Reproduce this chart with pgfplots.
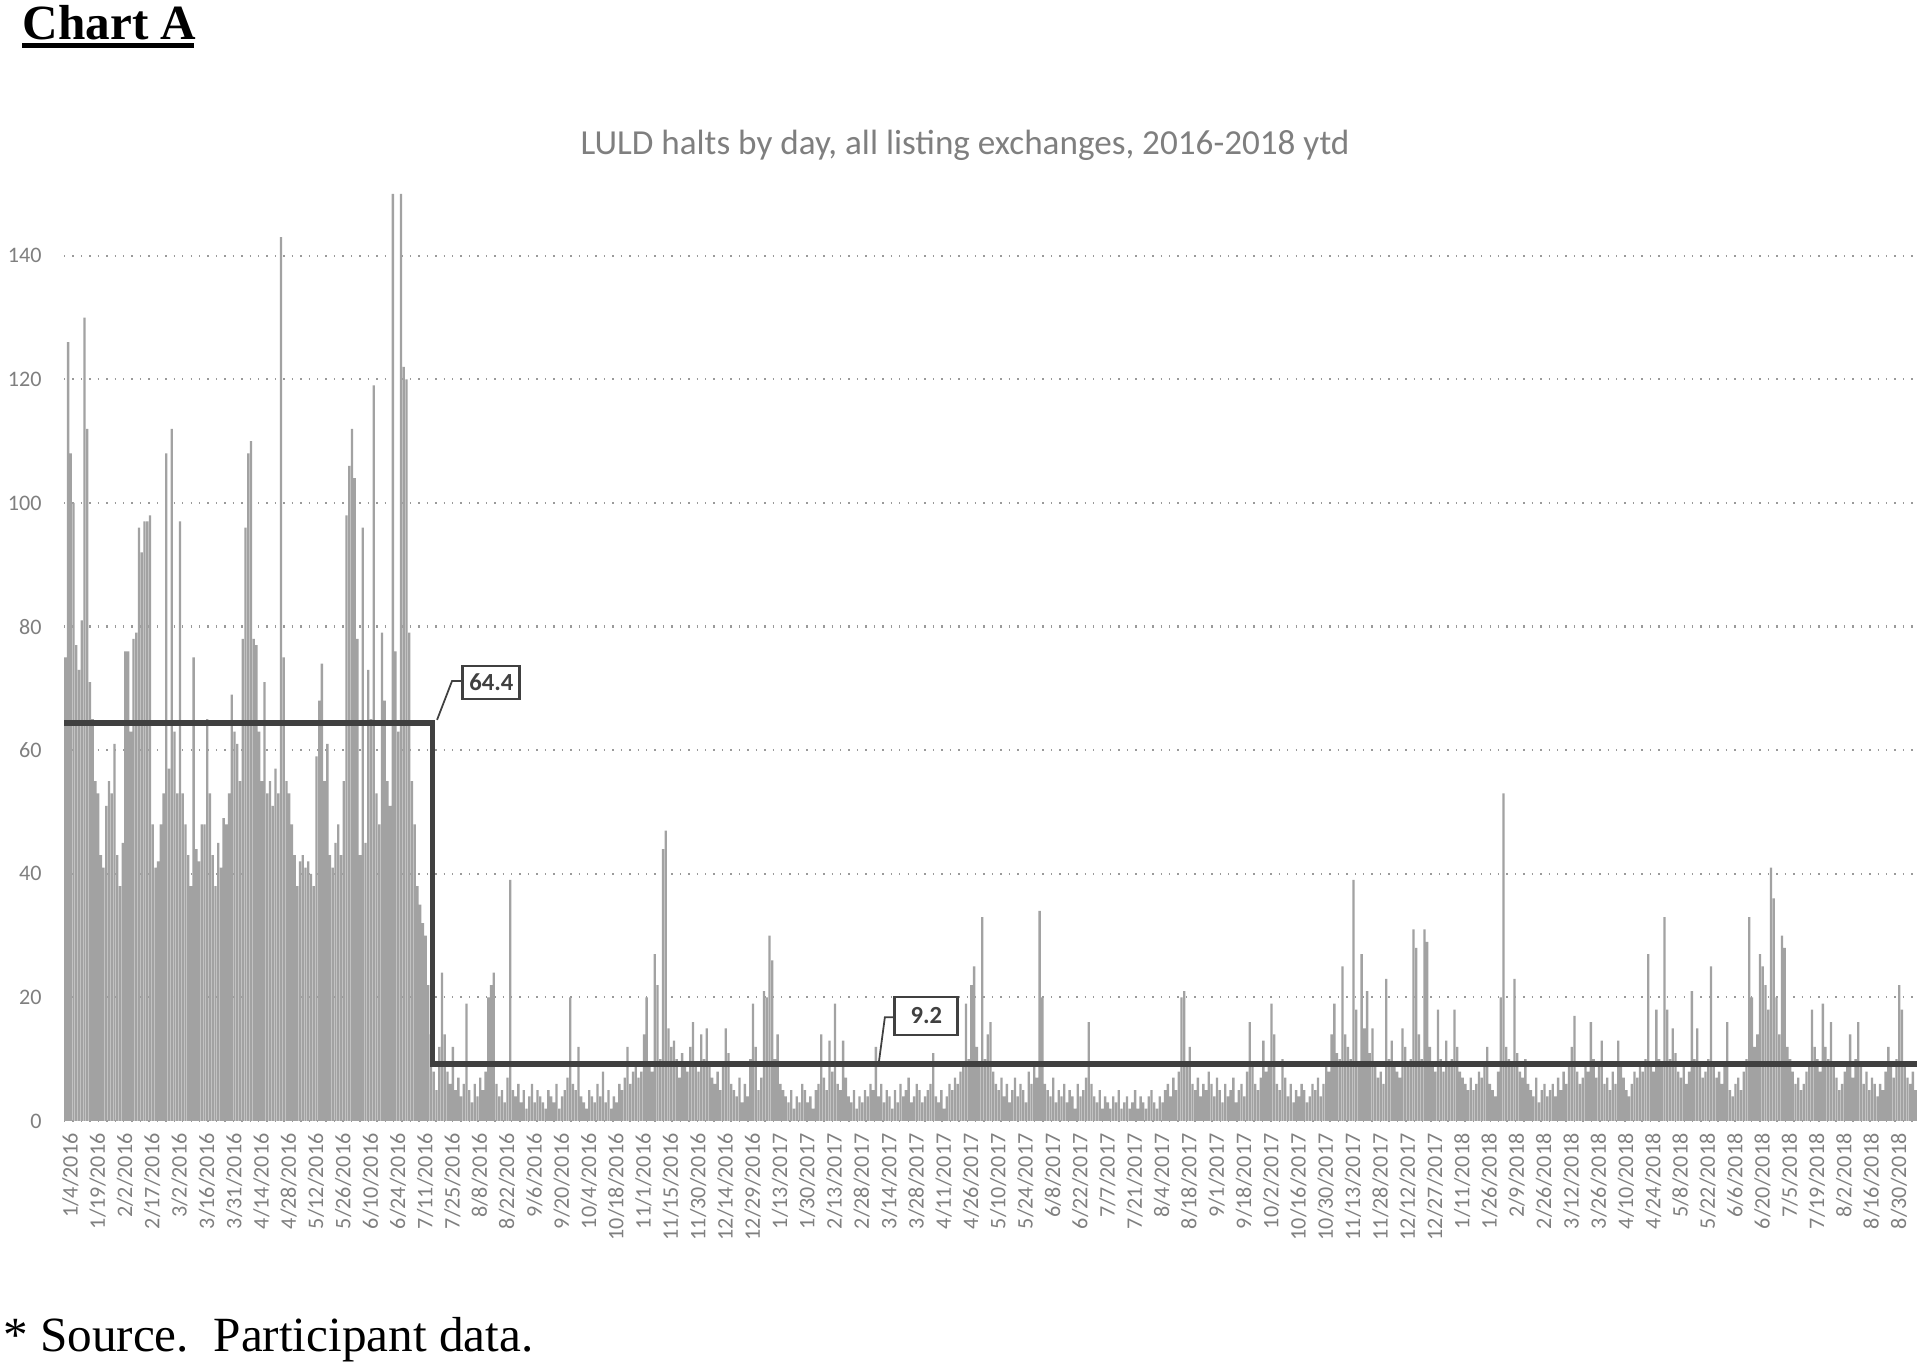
\documentclass[border=0pt]{standalone}
\usepackage{fontspec}
\setmainfont{Carlito}
\newfontfamily\timesfont{Liberation Serif}
\usepackage{pgfplots}
\usepackage{pgfplotstable}
\pgfplotsset{compat=1.18}
\definecolor{barfill}{HTML}{A2A2A2}
\definecolor{stepline}{HTML}{404040}
\definecolor{gridgray}{HTML}{9A9A9A}
\definecolor{txtgray}{HTML}{7F7F7F}

% daily LULD halts, 1/4/2016 onwards (one value per trading day)
\pgfplotstableread[row sep=\\]{
v\\
75\\126\\108\\100\\77\\73\\81\\130\\112\\71\\
65\\55\\53\\43\\41\\51\\55\\53\\61\\43\\
38\\45\\76\\76\\63\\78\\79\\96\\92\\97\\
97\\98\\48\\41\\42\\48\\53\\108\\57\\112\\
63\\53\\97\\53\\48\\43\\38\\75\\44\\42\\
48\\48\\65\\53\\43\\38\\45\\41\\49\\48\\
53\\69\\63\\61\\55\\78\\96\\108\\110\\78\\
77\\63\\55\\71\\53\\55\\51\\57\\53\\143\\
75\\55\\53\\48\\43\\38\\42\\43\\41\\42\\
40\\38\\59\\68\\74\\55\\61\\43\\41\\45\\
48\\43\\55\\98\\106\\112\\104\\78\\43\\96\\
45\\73\\65\\119\\53\\48\\79\\68\\55\\51\\
150\\76\\63\\150\\122\\120\\79\\55\\48\\38\\
35\\32\\30\\22\\14\\
8\\5\\12\\24\\14\\8\\6\\12\\5\\7\\
4\\6\\19\\5\\3\\6\\4\\7\\5\\8\\
20\\22\\24\\6\\4\\5\\3\\7\\39\\5\\
4\\6\\3\\5\\2\\4\\6\\3\\5\\4\\
3\\2\\5\\4\\3\\6\\2\\4\\5\\7\\
20\\6\\5\\12\\4\\3\\2\\5\\4\\3\\
6\\4\\8\\3\\5\\2\\4\\3\\6\\5\\
7\\12\\6\\8\\9\\7\\8\\14\\20\\9\\
8\\27\\22\\10\\44\\47\\15\\12\\13\\10\\
7\\11\\9\\8\\12\\16\\9\\8\\14\\10\\
15\\9\\7\\6\\8\\5\\9\\15\\11\\6\\
5\\4\\7\\3\\6\\4\\10\\19\\12\\5\\
7\\21\\20\\30\\26\\10\\14\\6\\5\\4\\
3\\5\\2\\4\\3\\6\\5\\3\\4\\2\\
5\\6\\14\\7\\5\\13\\8\\19\\6\\5\\
13\\7\\4\\3\\5\\2\\4\\3\\5\\4\\
6\\5\\12\\4\\6\\3\\5\\4\\2\\5\\
3\\6\\4\\5\\7\\3\\4\\6\\5\\3\\
4\\5\\6\\11\\4\\3\\5\\2\\4\\6\\
5\\7\\6\\8\\9\\19\\10\\22\\25\\12\\
9\\33\\10\\14\\16\\8\\6\\5\\7\\4\\
6\\3\\5\\7\\4\\6\\5\\3\\8\\6\\
9\\7\\34\\20\\6\\5\\4\\7\\3\\5\\
4\\6\\3\\5\\4\\2\\6\\4\\5\\7\\
16\\6\\4\\3\\5\\2\\4\\3\\2\\4\\
3\\5\\2\\3\\4\\2\\3\\5\\2\\4\\
3\\2\\4\\5\\3\\2\\4\\3\\5\\6\\
4\\7\\5\\8\\20\\21\\9\\12\\6\\5\\
7\\4\\6\\5\\8\\6\\4\\7\\5\\3\\
6\\4\\5\\7\\3\\5\\6\\4\\8\\16\\
9\\6\\5\\7\\13\\8\\9\\19\\14\\6\\
5\\10\\7\\4\\6\\3\\5\\4\\6\\5\\
3\\4\\6\\5\\7\\4\\6\\9\\8\\14\\
19\\11\\10\\25\\14\\12\\10\\39\\18\\9\\
27\\15\\21\\11\\15\\9\\7\\8\\6\\23\\
10\\13\\9\\8\\7\\15\\12\\9\\10\\31\\
28\\14\\10\\31\\29\\12\\9\\8\\18\\10\\
8\\13\\9\\10\\18\\12\\8\\7\\6\\5\\
7\\5\\6\\8\\7\\9\\12\\6\\5\\4\\
8\\20\\53\\12\\10\\9\\23\\11\\8\\7\\
10\\6\\5\\4\\7\\3\\5\\6\\4\\5\\
6\\4\\7\\5\\8\\6\\9\\12\\17\\8\\
6\\7\\9\\8\\16\\10\\7\\9\\13\\6\\
7\\5\\8\\6\\13\\9\\7\\5\\4\\6\\
8\\7\\9\\8\\10\\27\\9\\8\\18\\10\\
9\\33\\18\\10\\15\\11\\8\\7\\9\\6\\
8\\21\\10\\15\\9\\7\\8\\10\\25\\9\\
7\\8\\6\\9\\16\\5\\4\\6\\7\\5\\
8\\10\\33\\20\\12\\14\\27\\25\\22\\18\\
41\\36\\20\\14\\30\\28\\12\\10\\8\\6\\
7\\5\\6\\8\\9\\18\\12\\10\\8\\19\\
12\\10\\16\\9\\7\\5\\6\\8\\9\\14\\
7\\10\\16\\9\\6\\8\\5\\7\\6\\4\\
6\\5\\8\\12\\9\\7\\10\\22\\18\\9\\
7\\6\\8\\5\\
}\halts

\begin{document}
\begin{tikzpicture}
\useasboundingbox (0,0) rectangle (19.27,13.65);

\node[anchor=base west, inner sep=0pt, font=\timesfont\bfseries\fontsize{14}{16}\selectfont] at (0.22,13.25) {Chart A};
\draw[line width=1.4pt] (0.22,13.195) -- (1.94,13.195);

\node[font=\fontsize{10}{12}\selectfont, text=txtgray] at (9.65,12.20) {LULD halts by day, all listing exchanges, 2016-2018 ytd};

\begin{axis}[
    at={(0.64cm,2.44cm)}, anchor=south west,
    scale only axis,
    width=18.53cm, height=9.58cm,
    xmin=-0.5, xmax=678.5,
    ymin=0, ymax=155,
    ytick={0,20,...,140},
    ymajorgrids,
    grid style={gridgray, dotted, line width=0.6pt},
    axis line style={draw=none},
    major tick length=0pt,
    /pgf/number format/assume math mode=true,
    ticklabel style={font=\fontsize{6.3}{7}\selectfont, text=txtgray},
    yticklabel style={xshift=-0.1cm},
    xtick={0,10,...,670},
    xticklabels={1/4/2016,1/19/2016,2/2/2016,2/17/2016,3/2/2016,3/16/2016,3/31/2016,4/14/2016,4/28/2016,5/12/2016,5/26/2016,6/10/2016,6/24/2016,7/11/2016,7/25/2016,8/8/2016,8/22/2016,9/6/2016,9/20/2016,10/4/2016,10/18/2016,11/1/2016,11/15/2016,11/30/2016,12/14/2016,12/29/2016,1/13/2017,1/30/2017,2/13/2017,2/28/2017,3/14/2017,3/28/2017,4/11/2017,4/26/2017,5/10/2017,5/24/2017,6/8/2017,6/22/2017,7/7/2017,7/21/2017,8/4/2017,8/18/2017,9/1/2017,9/18/2017,10/2/2017,10/16/2017,10/30/2017,11/13/2017,11/28/2017,12/12/2017,12/27/2017,1/11/2018,1/26/2018,2/9/2018,2/26/2018,3/12/2018,3/26/2018,4/10/2018,4/24/2018,5/8/2018,5/22/2018,6/6/2018,6/20/2018,7/5/2018,7/19/2018,8/2/2018,8/16/2018,8/30/2018},
    xticklabel style={rotate=90, anchor=east, yshift=-0.05cm},
    clip=false,
]
\addplot[ybar, bar width=0.85, bar shift=0pt, fill=barfill, draw=none]
    table[x expr=\coordindex, y=v] {\halts};

% period averages
\addplot[stepline, line width=1.6pt, mark=none]
    coordinates {(-0.5,64.4) (134.5,64.4) (134.5,9.2) (678.5,9.2)};

\draw[stepline, line width=0.5pt] (axis cs:145.3,71.2) -- (axis cs:141.7,71.2) -- (axis cs:136.2,64.9);
\node[draw=stepline, line width=0.8pt, fill=white, minimum width=0.57cm, minimum height=0.33cm, inner sep=1pt,
      font=\bfseries\fontsize{7}{8}\selectfont, text=stepline] at (axis cs:156.1,70.95) {64.4};

\draw[stepline, line width=0.5pt] (axis cs:304.0,16.8) -- (axis cs:300.3,16.8) -- (axis cs:298.1,9.5);
\node[draw=stepline, line width=0.8pt, fill=white, minimum width=0.63cm, minimum height=0.38cm, inner sep=1pt,
      font=\bfseries\fontsize{7}{8}\selectfont, text=stepline] at (axis cs:315.5,17.0) {9.2};
\end{axis}

\node[anchor=base west, inner sep=0pt, font=\timesfont\fontsize{14}{16}\selectfont] at (0.025,0.13) {* Source.\ \ Participant data.};
\end{tikzpicture}
\end{document}
